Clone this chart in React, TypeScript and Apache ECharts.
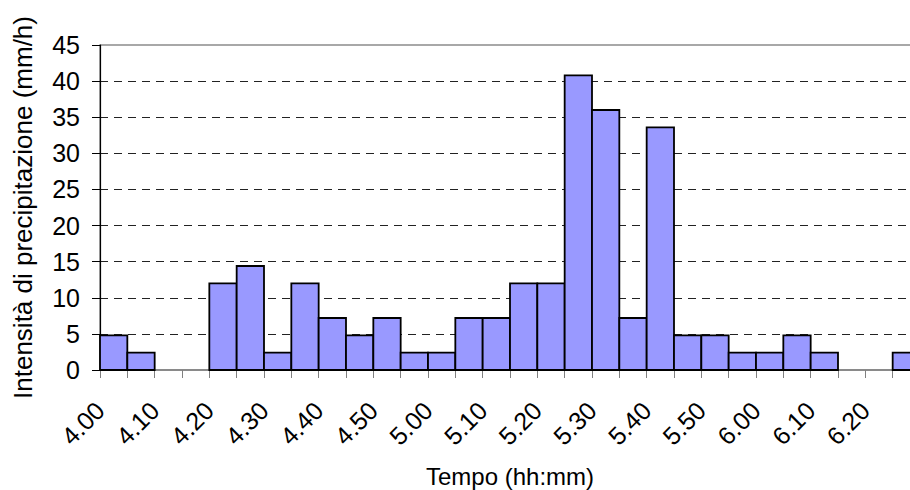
import React, { useEffect, useRef } from "react";
import * as echarts from "echarts";

// 5-minute intervals starting at 4.00 (minutes after 4.00)
const binStartMinutes = [0, 5, 10, 15, 20, 25, 30, 35, 40, 45, 50, 55, 60, 65, 70, 75, 80, 85, 90, 95, 100, 105, 110, 115, 120, 125, 130, 135, 140, 145];
const intensity = [4.8, 2.4, 0, 0, 12, 14.4, 2.4, 12, 7.2, 4.8, 7.2, 2.4, 2.4, 7.2, 7.2, 12, 12, 40.8, 36, 7.2, 33.6, 4.8, 4.8, 2.4, 2.4, 4.8, 2.4, 0, 0, 2.4];
const timeLabels = ["4.00", "4.10", "4.20", "4.30", "4.40", "4.50", "5.00", "5.10", "5.20", "5.30", "5.40", "5.50", "6.00", "6.10", "6.20"];
const binWidth = 5;

const FONT = "'Liberation Sans', Arial, sans-serif";

export default function App() {
  const ref = useRef<HTMLDivElement>(null);

  useEffect(() => {
    if (!ref.current) return;
    const chart = echarts.init(ref.current, null, { renderer: "svg" });
    const data = binStartMinutes.map((s, i) => [s, s + binWidth, intensity[i]]);
    chart.setOption({
      animation: false,
      backgroundColor: "#ffffff",
      grid: {
        left: 100,
        right: 10,
        top: 45,
        bottom: 120,
        containLabel: false,
        outerBoundsMode: "none",
        show: true,
        borderColor: "#8c8c8c",
        borderWidth: 1.5,
        backgroundColor: "transparent",
      },
      xAxis: {
        type: "value",
        min: 0,
        max: 150,
        interval: 5,
        name: "Tempo (hh:mm)",
        nameLocation: "middle",
        nameGap: 94,
        nameTextStyle: { fontFamily: FONT, fontSize: 24, color: "#000" },
        axisLine: { show: true, lineStyle: { color: "#808080", width: 1.5 } },
        axisTick: { show: true, length: 8, lineStyle: { color: "#808080", width: 1 } },
        axisLabel: {
          rotate: 45,
          margin: 36,
          fontFamily: FONT,
          fontSize: 25,
          color: "#000",
          formatter: (v: number) => {
            if (v % 10 !== 0) return "";
            const idx = v / 10;
            return idx < timeLabels.length ? timeLabels[idx] : "";
          },
        },
        splitLine: { show: false },
      },
      yAxis: {
        type: "value",
        min: 0,
        max: 45,
        interval: 5,
        name: "Intensità di precipitazione (mm/h)",
        nameLocation: "middle",
        nameGap: 64,
        nameRotate: 90,
        nameTextStyle: { fontFamily: FONT, fontSize: 26, color: "#000" },
        axisLine: { show: true, lineStyle: { color: "#000", width: 1.2 } },
        axisTick: { show: true, length: 8, lineStyle: { color: "#000", width: 1 } },
        axisLabel: { margin: 20, fontFamily: FONT, fontSize: 25, color: "#000" },
        splitLine: {
          show: true,
          showMinLine: false,
          showMaxLine: false,
          lineStyle: { color: "#222", width: 1, type: [8, 6] },
        },
      },
      series: [
        {
          type: "custom",
          encode: { x: [0, 1], y: 2 },
          data,
          renderItem: (params: any, api: any) => {
            const x0 = api.value(0);
            const x1 = api.value(1);
            const v = api.value(2);
            if (!v) return null;
            const p0 = api.coord([x0, v]);
            const p1 = api.coord([x1, 0]);
            return {
              type: "rect",
              shape: { x: p0[0], y: p0[1], width: p1[0] - p0[0], height: p1[1] - p0[1] },
              style: { fill: "#9999FF", stroke: "#000", lineWidth: 1.8 },
            };
          },
        },
      ],
    });
    return () => chart.dispose();
  }, []);

  return (
    <div style={{ position: "fixed", left: 0, top: 0, width: 910, height: 490, overflow: "hidden", background: "#fff" }}>
      <div ref={ref} style={{ width: 930, height: 490 }} />
    </div>
  );
}
